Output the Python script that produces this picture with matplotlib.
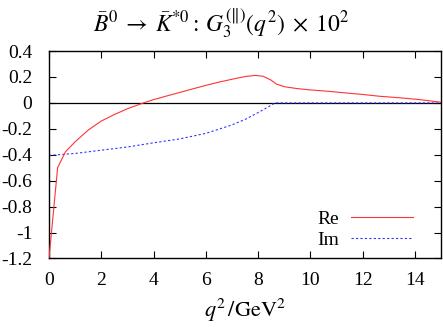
"""
plot.py  —  G3^(||)(q^2) x 10^2 for B0bar -> K*0bar, real and imaginary parts.
"""

import matplotlib as mpl
mpl.use('Agg')
import matplotlib.pyplot as plt

# --- Data ---
Q2_RE = [0.0, 0.33, 0.63, 1.0, 1.5, 2.0, 2.5, 3.0, 3.62, 4.0, 4.5, 5.0, 5.5,
         6.0, 6.5, 7.0, 7.5, 7.9, 8.2, 8.5, 8.7, 9.0, 9.5, 10.0, 10.7, 11.5,
         12.0, 12.65, 13.5, 14.2, 15.0]
G3_RE = [-1.2, -0.5, -0.377, -0.3, -0.21, -0.14, -0.09, -0.045, 0.0, 0.025,
         0.053, 0.08, 0.108, 0.135, 0.16, 0.182, 0.203, 0.212, 0.205, 0.175,
         0.145, 0.125, 0.11, 0.1, 0.089, 0.074, 0.065, 0.051, 0.038, 0.025,
         0.005]

Q2_IM = [0.0, 1.0, 2.0, 3.0, 4.0, 5.0, 6.0, 7.0, 7.5, 8.0, 8.33, 8.65,
         10.0, 12.0, 15.0]
G3_IM = [-0.405, -0.39, -0.365, -0.34, -0.308, -0.278, -0.235, -0.17, -0.128,
         -0.075, -0.038, 0.0, 0.0, 0.0, 0.0]

X_TICKS = [0, 2, 4, 6, 8, 10, 12, 14]
Y_TICKS = [-1.2, -1.0, -0.8, -0.6, -0.4, -0.2, 0.0, 0.2, 0.4]

# --- Style ---
mpl.rcParams.update({
    'font.family': 'serif',
    'font.serif': ['Liberation Serif', 'DejaVu Serif'],
    'mathtext.fontset': 'stix',
    'font.size': 14,
    'xtick.direction': 'in',
    'ytick.direction': 'in',
    'xtick.top': True,
    'ytick.right': True,
    'xtick.major.size': 5,
    'ytick.major.size': 5,
    'axes.linewidth': 1.0,
})


def fmt_tick(v, _):
    s = f'{v:g}'
    return '0' if s in ('0', '-0') else s


fig = plt.figure(figsize=(4.43, 3.27), dpi=100)
ax = fig.add_axes([0.1106, 0.2095, 0.8849, 0.6345])

ax.axhline(0, color='black', lw=0.9, zorder=1)
ax.plot(Q2_RE, G3_RE, color='#ff3333', lw=0.8, label='Re', zorder=3)
ax.plot(Q2_IM, G3_IM, color='#3333ff', lw=0.8, dashes=(2, 2), label='Im', zorder=2)

ax.set_xlim(0, 15)
ax.set_ylim(-1.2, 0.4)
ax.set_xticks(X_TICKS)
ax.set_yticks(Y_TICKS)
ax.xaxis.set_major_formatter(mpl.ticker.FuncFormatter(fmt_tick))
ax.yaxis.set_major_formatter(mpl.ticker.FuncFormatter(fmt_tick))
ax.tick_params(axis='x', pad=10)
ax.tick_params(axis='y', pad=12)

ax.set_xlabel(r'$q^2\,/\mathrm{GeV}^2$', labelpad=5, fontsize=16)
fig.suptitle(r'$\bar{B}^0 \;\to\; \bar{K}^{*0} :\, G_3^{(\|)}(q^2) \;\times\; 10^2$',
             x=0.5, y=0.98, fontsize=17)

ax.legend(loc='lower right', bbox_to_anchor=(0.949, 0.01), frameon=False,
          markerfirst=False, handlelength=3.2, handletextpad=0.6,
          labelspacing=0.15, borderaxespad=0.0, fontsize=14)

fig.savefig('out.png', dpi=100)
